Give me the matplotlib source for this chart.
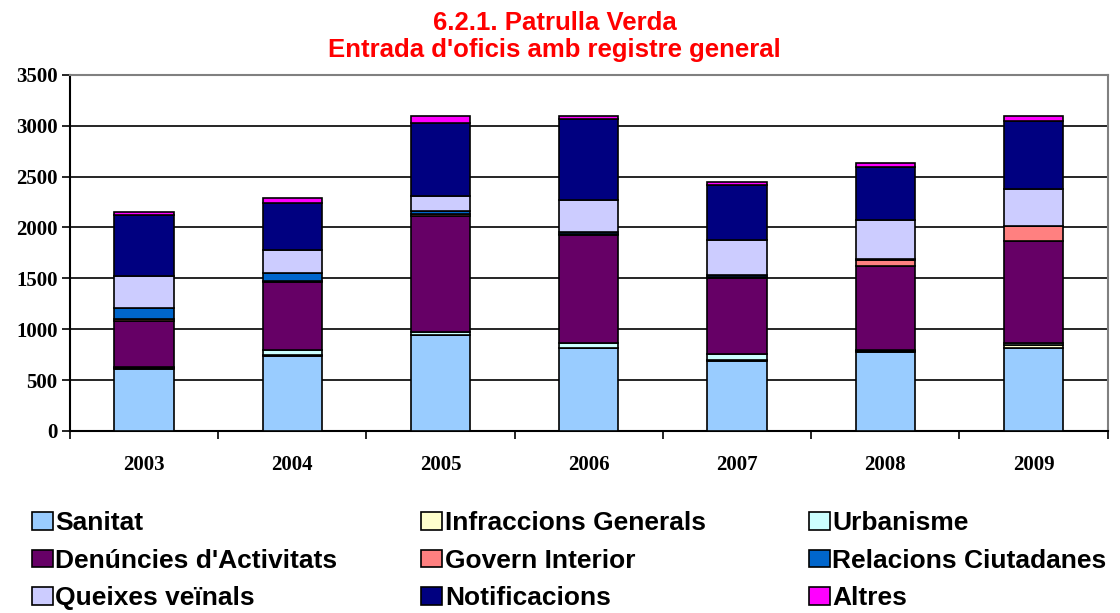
import numpy as np
import matplotlib.pyplot as plt
from matplotlib.patches import Patch

# --- data ---
years = ['2003', '2004', '2005', '2006', '2007', '2008', '2009']

sanitat = [605, 740, 940, 812, 690, 772, 812]
infraccions = [10, 5, 5, 5, 5, 10, 30]
urbanisme = [15, 50, 30, 50, 60, 15, 25]
denuncies = [450, 671, 1140, 1061, 752, 824, 995]
govern = [20, 5, 15, 10, 10, 59, 148]
relacions = [106, 81, 27, 13, 13, 5, 5]
queixes = [314, 226, 152, 321, 342, 384, 365]
notificacions = [601, 464, 718, 794, 546, 529, 669]
altres = [34, 48, 71, 32, 27, 35, 49]

series = [
    ('Sanitat', sanitat, '#99CCFF'),
    ('Infraccions Generals', infraccions, '#FFFFCC'),
    ('Urbanisme', urbanisme, '#CCFFFF'),
    ("Denúncies d'Activitats", denuncies, '#660066'),
    ('Govern Interior', govern, '#FF8080'),
    ('Relacions Ciutadanes', relacions, '#0066CC'),
    ('Queixes veïnals', queixes, '#CCCCFF'),
    ('Notificacions', notificacions, '#000080'),
    ('Altres', altres, '#FF00FF'),
]

# --- figure ---
fig = plt.figure(figsize=(11.2, 6.13), dpi=100)
ax = fig.add_axes([0.0625, 0.297, 0.9265, 0.581])

x = np.arange(len(years)) + 0.5
bottom = np.zeros(len(years))
for name, vals, col in series:
    ax.bar(x, vals, width=0.4, bottom=bottom, color=col,
           edgecolor='black', linewidth=1.2, zorder=3)
    bottom += np.array(vals)

ax.set_xlim(0, len(years))
ax.set_ylim(0, 3500)
ax.set_yticks(range(0, 3501, 500))
ax.yaxis.grid(True, color='black', linewidth=1.2, zorder=0)

# category ticks between bars, labels at centres
ax.set_xticks(np.arange(len(years) + 1))
ax.set_xticklabels([])
ax.set_xticks(x, minor=True)
ax.set_xticklabels(years, minor=True)
ax.tick_params(axis='x', which='major', direction='out', length=6, width=1.2)
ax.tick_params(axis='x', which='minor', length=0, pad=17)
ax.tick_params(axis='y', direction='out', length=6, width=1.2, pad=3)

for lab in ax.get_xticklabels(minor=True) + ax.get_yticklabels():
    lab.set_fontfamily('Liberation Serif')
    lab.set_fontweight('bold')
    lab.set_fontsize(15)

ax.spines['left'].set_linewidth(1.5)
ax.spines['bottom'].set_linewidth(1.5)
ax.spines['top'].set_color('#808080')
ax.spines['right'].set_color('#808080')
ax.spines['top'].set_linewidth(1.5)
ax.spines['right'].set_linewidth(1.5)

# title, two lines
title_kw = dict(ha='center', va='baseline', color='red', fontsize=18.5,
                fontweight='bold', family='Liberation Sans')
fig.text(0.495, 1 - 30 / 613, '6.2.1. Patrulla Verda', **title_kw)
fig.text(0.495, 1 - 57 / 613, "Entrada d'oficis amb registre general", **title_kw)

# --- legend: three columns placed by hand ---
col_x = [0.0283, 0.376, 0.722]
for c in range(3):
    handles = []
    for r in range(3):
        name, vals, col = series[r * 3 + c]
        handles.append(Patch(facecolor=col, edgecolor='black', linewidth=1.2, label=name))
    fig.legend(handles=handles, loc='upper left', bbox_to_anchor=(col_x[c], 0.1656),
               frameon=False, handlelength=0.8, handleheight=0.64,
               handletextpad=0.1, labelspacing=0.51, borderaxespad=0, borderpad=0,
               prop={'family': 'Liberation Sans', 'weight': 'bold', 'size': 19})

fig.savefig('out.png', dpi=100)
